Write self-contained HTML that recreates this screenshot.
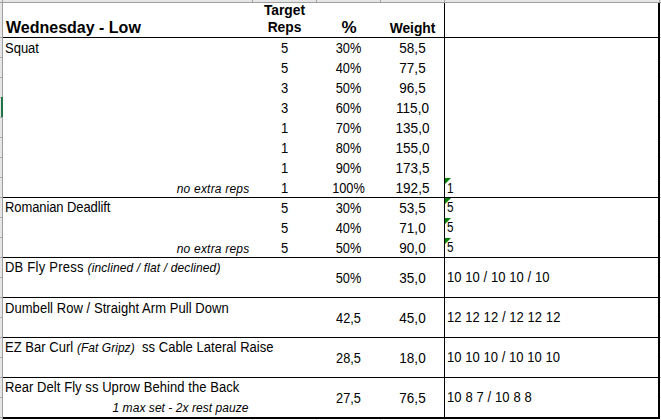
<!DOCTYPE html>
<html><head><meta charset="utf-8"><style>
html,body{margin:0;padding:0;background:#fff;}
body{width:661px;height:420px;position:relative;overflow:hidden;color:#000;font-family:'Liberation Sans', sans-serif;}
body>div{position:absolute;white-space:pre;}
</style></head><body>
<div style="left:0px;top:0px;width:661px;height:2px;background:#e6e6e6"></div>
<div style="left:0px;top:0px;width:2px;height:420px;background:#e6e6e6"></div>
<div style="left:0px;top:2px;width:661px;height:1px;background:#9f9f9f"></div>
<div style="left:2px;top:0px;width:1px;height:420px;background:#9f9f9f"></div>
<div style="left:252px;top:0px;width:1px;height:2px;background:#a4a4a4"></div>
<div style="left:316px;top:0px;width:1px;height:2px;background:#a4a4a4"></div>
<div style="left:380px;top:0px;width:1px;height:2px;background:#a4a4a4"></div>
<div style="left:444px;top:0px;width:1px;height:2px;background:#a4a4a4"></div>
<div style="left:659px;top:0px;width:1px;height:2px;background:#a4a4a4"></div>
<div style="left:0px;top:37px;width:2px;height:1px;background:#ababab"></div>
<div style="left:0px;top:57px;width:2px;height:1px;background:#ababab"></div>
<div style="left:0px;top:77px;width:2px;height:1px;background:#ababab"></div>
<div style="left:0px;top:97px;width:2px;height:1px;background:#ababab"></div>
<div style="left:0px;top:117px;width:2px;height:1px;background:#ababab"></div>
<div style="left:0px;top:137px;width:2px;height:1px;background:#ababab"></div>
<div style="left:0px;top:157px;width:2px;height:1px;background:#ababab"></div>
<div style="left:0px;top:177px;width:2px;height:1px;background:#ababab"></div>
<div style="left:0px;top:197px;width:2px;height:1px;background:#ababab"></div>
<div style="left:0px;top:217px;width:2px;height:1px;background:#ababab"></div>
<div style="left:0px;top:237px;width:2px;height:1px;background:#ababab"></div>
<div style="left:0px;top:257px;width:2px;height:1px;background:#ababab"></div>
<div style="left:0px;top:277px;width:2px;height:1px;background:#ababab"></div>
<div style="left:0px;top:297px;width:2px;height:1px;background:#ababab"></div>
<div style="left:0px;top:317px;width:2px;height:1px;background:#ababab"></div>
<div style="left:0px;top:337px;width:2px;height:1px;background:#ababab"></div>
<div style="left:0px;top:357px;width:2px;height:1px;background:#ababab"></div>
<div style="left:0px;top:377px;width:2px;height:1px;background:#ababab"></div>
<div style="left:0px;top:397px;width:2px;height:1px;background:#ababab"></div>
<div style="left:0px;top:417px;width:2px;height:1px;background:#ababab"></div>
<div style="left:1px;top:97px;width:2px;height:20px;background:#217346"></div>
<div style="left:3px;top:37px;width:656px;height:1px;background:#000"></div>
<div style="left:3px;top:197px;width:656px;height:1px;background:#000"></div>
<div style="left:3px;top:257px;width:656px;height:1px;background:#000"></div>
<div style="left:3px;top:297px;width:656px;height:1px;background:#000"></div>
<div style="left:3px;top:337px;width:656px;height:1px;background:#000"></div>
<div style="left:3px;top:377px;width:656px;height:1px;background:#000"></div>
<div style="left:3px;top:417px;width:657px;height:2px;background:#000"></div>
<div style="left:444px;top:3px;width:1px;height:414px;background:#000"></div>
<div style="left:658px;top:3px;width:2px;height:416px;background:#000"></div>
<div style="left:252px;top:419px;width:1px;height:1px;background:#d4d4d4"></div>
<div style="left:316px;top:419px;width:1px;height:1px;background:#d4d4d4"></div>
<div style="left:380px;top:419px;width:1px;height:1px;background:#d4d4d4"></div>
<div style="left:444px;top:419px;width:1px;height:1px;background:#d4d4d4"></div>
<div style="left:660px;top:37px;width:1px;height:1px;background:#d4d4d4"></div>
<div style="left:660px;top:57px;width:1px;height:1px;background:#d4d4d4"></div>
<div style="left:660px;top:77px;width:1px;height:1px;background:#d4d4d4"></div>
<div style="left:660px;top:97px;width:1px;height:1px;background:#d4d4d4"></div>
<div style="left:660px;top:117px;width:1px;height:1px;background:#d4d4d4"></div>
<div style="left:660px;top:137px;width:1px;height:1px;background:#d4d4d4"></div>
<div style="left:660px;top:157px;width:1px;height:1px;background:#d4d4d4"></div>
<div style="left:660px;top:177px;width:1px;height:1px;background:#d4d4d4"></div>
<div style="left:660px;top:197px;width:1px;height:1px;background:#d4d4d4"></div>
<div style="left:660px;top:217px;width:1px;height:1px;background:#d4d4d4"></div>
<div style="left:660px;top:237px;width:1px;height:1px;background:#d4d4d4"></div>
<div style="left:660px;top:257px;width:1px;height:1px;background:#d4d4d4"></div>
<div style="left:660px;top:277px;width:1px;height:1px;background:#d4d4d4"></div>
<div style="left:660px;top:297px;width:1px;height:1px;background:#d4d4d4"></div>
<div style="left:660px;top:317px;width:1px;height:1px;background:#d4d4d4"></div>
<div style="left:660px;top:337px;width:1px;height:1px;background:#d4d4d4"></div>
<div style="left:660px;top:357px;width:1px;height:1px;background:#d4d4d4"></div>
<div style="left:660px;top:377px;width:1px;height:1px;background:#d4d4d4"></div>
<div style="left:660px;top:397px;width:1px;height:1px;background:#d4d4d4"></div>
<div style="top:18px;font:normal bold 16px/20px 'Liberation Sans', sans-serif;left:6px;">Wednesday - Low</div>
<div style="top:1px;font:normal bold 13.8px/20px 'Liberation Sans', sans-serif;left:253px;width:63px;text-align:center;">Target</div>
<div style="top:18px;font:normal bold 13.8px/20px 'Liberation Sans', sans-serif;left:253px;width:63px;text-align:center;">Reps</div>
<div style="top:18px;font:normal bold 17px/20px 'Liberation Sans', sans-serif;left:317px;width:64px;text-align:center;">%</div>
<div style="top:19px;font:normal bold 13.8px/20px 'Liberation Sans', sans-serif;left:381px;width:63px;text-align:center;">Weight</div>
<div style="top:39px;font:normal normal 13.8px/20px 'Liberation Sans', sans-serif;left:5px;transform:scaleX(0.942);transform-origin:0 0;">Squat</div>
<div style="top:39px;font:normal normal 13.8px/20px 'Liberation Sans', sans-serif;left:253px;width:63px;text-align:center;transform:scaleX(0.942);transform-origin:50% 0;">5</div>
<div style="top:39px;font:normal normal 13.8px/20px 'Liberation Sans', sans-serif;left:317px;width:63px;text-align:center;transform:scaleX(0.925);transform-origin:50% 0;">30%</div>
<div style="top:39px;font:normal normal 13.8px/20px 'Liberation Sans', sans-serif;left:381px;width:63px;text-align:center;transform:scaleX(0.98);transform-origin:50% 0;">58,5</div>
<div style="top:59px;font:normal normal 13.8px/20px 'Liberation Sans', sans-serif;left:253px;width:63px;text-align:center;transform:scaleX(0.942);transform-origin:50% 0;">5</div>
<div style="top:59px;font:normal normal 13.8px/20px 'Liberation Sans', sans-serif;left:317px;width:63px;text-align:center;transform:scaleX(0.925);transform-origin:50% 0;">40%</div>
<div style="top:59px;font:normal normal 13.8px/20px 'Liberation Sans', sans-serif;left:381px;width:63px;text-align:center;transform:scaleX(0.98);transform-origin:50% 0;">77,5</div>
<div style="top:79px;font:normal normal 13.8px/20px 'Liberation Sans', sans-serif;left:253px;width:63px;text-align:center;transform:scaleX(0.942);transform-origin:50% 0;">3</div>
<div style="top:79px;font:normal normal 13.8px/20px 'Liberation Sans', sans-serif;left:317px;width:63px;text-align:center;transform:scaleX(0.925);transform-origin:50% 0;">50%</div>
<div style="top:79px;font:normal normal 13.8px/20px 'Liberation Sans', sans-serif;left:381px;width:63px;text-align:center;transform:scaleX(0.98);transform-origin:50% 0;">96,5</div>
<div style="top:99px;font:normal normal 13.8px/20px 'Liberation Sans', sans-serif;left:253px;width:63px;text-align:center;transform:scaleX(0.942);transform-origin:50% 0;">3</div>
<div style="top:99px;font:normal normal 13.8px/20px 'Liberation Sans', sans-serif;left:317px;width:63px;text-align:center;transform:scaleX(0.925);transform-origin:50% 0;">60%</div>
<div style="top:99px;font:normal normal 13.8px/20px 'Liberation Sans', sans-serif;left:381px;width:63px;text-align:center;transform:scaleX(0.98);transform-origin:50% 0;">115,0</div>
<div style="top:119px;font:normal normal 13.8px/20px 'Liberation Sans', sans-serif;left:253px;width:63px;text-align:center;transform:scaleX(0.942);transform-origin:50% 0;">1</div>
<div style="top:119px;font:normal normal 13.8px/20px 'Liberation Sans', sans-serif;left:317px;width:63px;text-align:center;transform:scaleX(0.925);transform-origin:50% 0;">70%</div>
<div style="top:119px;font:normal normal 13.8px/20px 'Liberation Sans', sans-serif;left:381px;width:63px;text-align:center;transform:scaleX(0.98);transform-origin:50% 0;">135,0</div>
<div style="top:139px;font:normal normal 13.8px/20px 'Liberation Sans', sans-serif;left:253px;width:63px;text-align:center;transform:scaleX(0.942);transform-origin:50% 0;">1</div>
<div style="top:139px;font:normal normal 13.8px/20px 'Liberation Sans', sans-serif;left:317px;width:63px;text-align:center;transform:scaleX(0.925);transform-origin:50% 0;">80%</div>
<div style="top:139px;font:normal normal 13.8px/20px 'Liberation Sans', sans-serif;left:381px;width:63px;text-align:center;transform:scaleX(0.98);transform-origin:50% 0;">155,0</div>
<div style="top:159px;font:normal normal 13.8px/20px 'Liberation Sans', sans-serif;left:253px;width:63px;text-align:center;transform:scaleX(0.942);transform-origin:50% 0;">1</div>
<div style="top:159px;font:normal normal 13.8px/20px 'Liberation Sans', sans-serif;left:317px;width:63px;text-align:center;transform:scaleX(0.925);transform-origin:50% 0;">90%</div>
<div style="top:159px;font:normal normal 13.8px/20px 'Liberation Sans', sans-serif;left:381px;width:63px;text-align:center;transform:scaleX(0.98);transform-origin:50% 0;">173,5</div>
<div style="top:179px;font:normal normal 13.8px/20px 'Liberation Sans', sans-serif;left:253px;width:63px;text-align:center;transform:scaleX(0.942);transform-origin:50% 0;">1</div>
<div style="top:179px;font:normal normal 13.8px/20px 'Liberation Sans', sans-serif;left:317px;width:63px;text-align:center;transform:scaleX(0.925);transform-origin:50% 0;">100%</div>
<div style="top:179px;font:normal normal 13.8px/20px 'Liberation Sans', sans-serif;left:381px;width:63px;text-align:center;transform:scaleX(0.98);transform-origin:50% 0;">192,5</div>
<div style="top:179px;font:italic normal 12px/20px 'Liberation Sans', sans-serif;left:129.4px;width:120px;text-align:right;letter-spacing:0.2px;">no extra reps</div>
<div style="left:445px;top:178px;width:0;height:0;border-top:6px solid #008000;border-right:6px solid transparent"></div>
<div style="top:179px;font:normal normal 13.8px/20px 'Liberation Sans', sans-serif;left:447px;transform:scaleX(0.85);transform-origin:0 0;">1</div>
<div style="top:198px;font:normal normal 13.8px/20px 'Liberation Sans', sans-serif;left:5px;transform:scaleX(0.942);transform-origin:0 0;letter-spacing:-0.1px;">Romanian Deadlift</div>
<div style="top:199px;font:normal normal 13.8px/20px 'Liberation Sans', sans-serif;left:253px;width:63px;text-align:center;transform:scaleX(0.942);transform-origin:50% 0;">5</div>
<div style="top:199px;font:normal normal 13.8px/20px 'Liberation Sans', sans-serif;left:317px;width:63px;text-align:center;transform:scaleX(0.925);transform-origin:50% 0;">30%</div>
<div style="top:199px;font:normal normal 13.8px/20px 'Liberation Sans', sans-serif;left:381px;width:63px;text-align:center;transform:scaleX(0.98);transform-origin:50% 0;">53,5</div>
<div style="left:445px;top:198px;width:0;height:0;border-top:6px solid #008000;border-right:6px solid transparent"></div>
<div style="top:198px;font:normal normal 13.8px/20px 'Liberation Sans', sans-serif;left:447px;transform:scaleX(0.85);transform-origin:0 0;">5</div>
<div style="top:219px;font:normal normal 13.8px/20px 'Liberation Sans', sans-serif;left:253px;width:63px;text-align:center;transform:scaleX(0.942);transform-origin:50% 0;">5</div>
<div style="top:219px;font:normal normal 13.8px/20px 'Liberation Sans', sans-serif;left:317px;width:63px;text-align:center;transform:scaleX(0.925);transform-origin:50% 0;">40%</div>
<div style="top:219px;font:normal normal 13.8px/20px 'Liberation Sans', sans-serif;left:381px;width:63px;text-align:center;transform:scaleX(0.98);transform-origin:50% 0;">71,0</div>
<div style="left:445px;top:218px;width:0;height:0;border-top:6px solid #008000;border-right:6px solid transparent"></div>
<div style="top:218px;font:normal normal 13.8px/20px 'Liberation Sans', sans-serif;left:447px;transform:scaleX(0.85);transform-origin:0 0;">5</div>
<div style="top:239px;font:normal normal 13.8px/20px 'Liberation Sans', sans-serif;left:253px;width:63px;text-align:center;transform:scaleX(0.942);transform-origin:50% 0;">5</div>
<div style="top:239px;font:normal normal 13.8px/20px 'Liberation Sans', sans-serif;left:317px;width:63px;text-align:center;transform:scaleX(0.925);transform-origin:50% 0;">50%</div>
<div style="top:239px;font:normal normal 13.8px/20px 'Liberation Sans', sans-serif;left:381px;width:63px;text-align:center;transform:scaleX(0.98);transform-origin:50% 0;">90,0</div>
<div style="left:445px;top:238px;width:0;height:0;border-top:6px solid #008000;border-right:6px solid transparent"></div>
<div style="top:238px;font:normal normal 13.8px/20px 'Liberation Sans', sans-serif;left:447px;transform:scaleX(0.85);transform-origin:0 0;">5</div>
<div style="top:239px;font:italic normal 12px/20px 'Liberation Sans', sans-serif;left:129.4px;width:120px;text-align:right;letter-spacing:0.2px;">no extra reps</div>
<div style="top:258px;font:normal normal 13.8px/20px 'Liberation Sans', sans-serif;left:5px;transform:scaleX(0.942);transform-origin:0 0;"><span style="letter-spacing:0.25px">DB Fly Press </span><i style="font-size:12.74px;letter-spacing:0.14px">(inclined / flat / declined)</i></div>
<div style="top:269px;font:normal normal 13.8px/20px 'Liberation Sans', sans-serif;left:317px;width:63px;text-align:center;transform:scaleX(0.925);transform-origin:50% 0;">50%</div>
<div style="top:269px;font:normal normal 13.8px/20px 'Liberation Sans', sans-serif;left:381px;width:63px;text-align:center;transform:scaleX(0.98);transform-origin:50% 0;">35,0</div>
<div style="top:268px;font:normal normal 13.8px/20px 'Liberation Sans', sans-serif;left:447px;transform:scaleX(0.942);transform-origin:0 0;letter-spacing:0.08px;">10 10 / 10 10 / 10</div>
<div style="top:299px;font:normal normal 13.8px/20px 'Liberation Sans', sans-serif;left:5px;transform:scaleX(0.942);transform-origin:0 0;letter-spacing:0.06px;">Dumbell Row / Straight Arm Pull Down</div>
<div style="top:309px;font:normal normal 13.8px/20px 'Liberation Sans', sans-serif;left:317px;width:63px;text-align:center;transform:scaleX(0.925);transform-origin:50% 0;">42,5</div>
<div style="top:309px;font:normal normal 13.8px/20px 'Liberation Sans', sans-serif;left:381px;width:63px;text-align:center;transform:scaleX(0.98);transform-origin:50% 0;">45,0</div>
<div style="top:308px;font:normal normal 13.8px/20px 'Liberation Sans', sans-serif;left:447px;transform:scaleX(0.942);transform-origin:0 0;letter-spacing:0.08px;">12 12 12 / 12 12 12</div>
<div style="top:338px;font:normal normal 13.8px/20px 'Liberation Sans', sans-serif;left:5px;transform:scaleX(0.942);transform-origin:0 0;letter-spacing:0.04px;">EZ Bar Curl <i style="font-size:12.74px">(Fat Gripz)</i>  ss Cable Lateral Raise</div>
<div style="top:349px;font:normal normal 13.8px/20px 'Liberation Sans', sans-serif;left:317px;width:63px;text-align:center;transform:scaleX(0.925);transform-origin:50% 0;">28,5</div>
<div style="top:349px;font:normal normal 13.8px/20px 'Liberation Sans', sans-serif;left:381px;width:63px;text-align:center;transform:scaleX(0.98);transform-origin:50% 0;">18,0</div>
<div style="top:348px;font:normal normal 13.8px/20px 'Liberation Sans', sans-serif;left:447px;transform:scaleX(0.942);transform-origin:0 0;letter-spacing:0.06px;">10 10 10 / 10 10 10</div>
<div style="top:378px;font:normal normal 13.8px/20px 'Liberation Sans', sans-serif;left:5px;transform:scaleX(0.942);transform-origin:0 0;letter-spacing:0.07px;">Rear Delt Fly ss Uprow Behind the Back</div>
<div style="top:398px;font:italic normal 12px/20px 'Liberation Sans', sans-serif;left:88.5px;width:160px;text-align:right;letter-spacing:0.05px;">1 max set - 2x rest pauze</div>
<div style="top:389px;font:normal normal 13.8px/20px 'Liberation Sans', sans-serif;left:317px;width:63px;text-align:center;transform:scaleX(0.925);transform-origin:50% 0;">27,5</div>
<div style="top:389px;font:normal normal 13.8px/20px 'Liberation Sans', sans-serif;left:381px;width:63px;text-align:center;transform:scaleX(0.98);transform-origin:50% 0;">76,5</div>
<div style="top:388px;font:normal normal 13.8px/20px 'Liberation Sans', sans-serif;left:447px;transform:scaleX(0.942);transform-origin:0 0;letter-spacing:0.12px;">10 8 7 / 10 8 8</div>
</body></html>
